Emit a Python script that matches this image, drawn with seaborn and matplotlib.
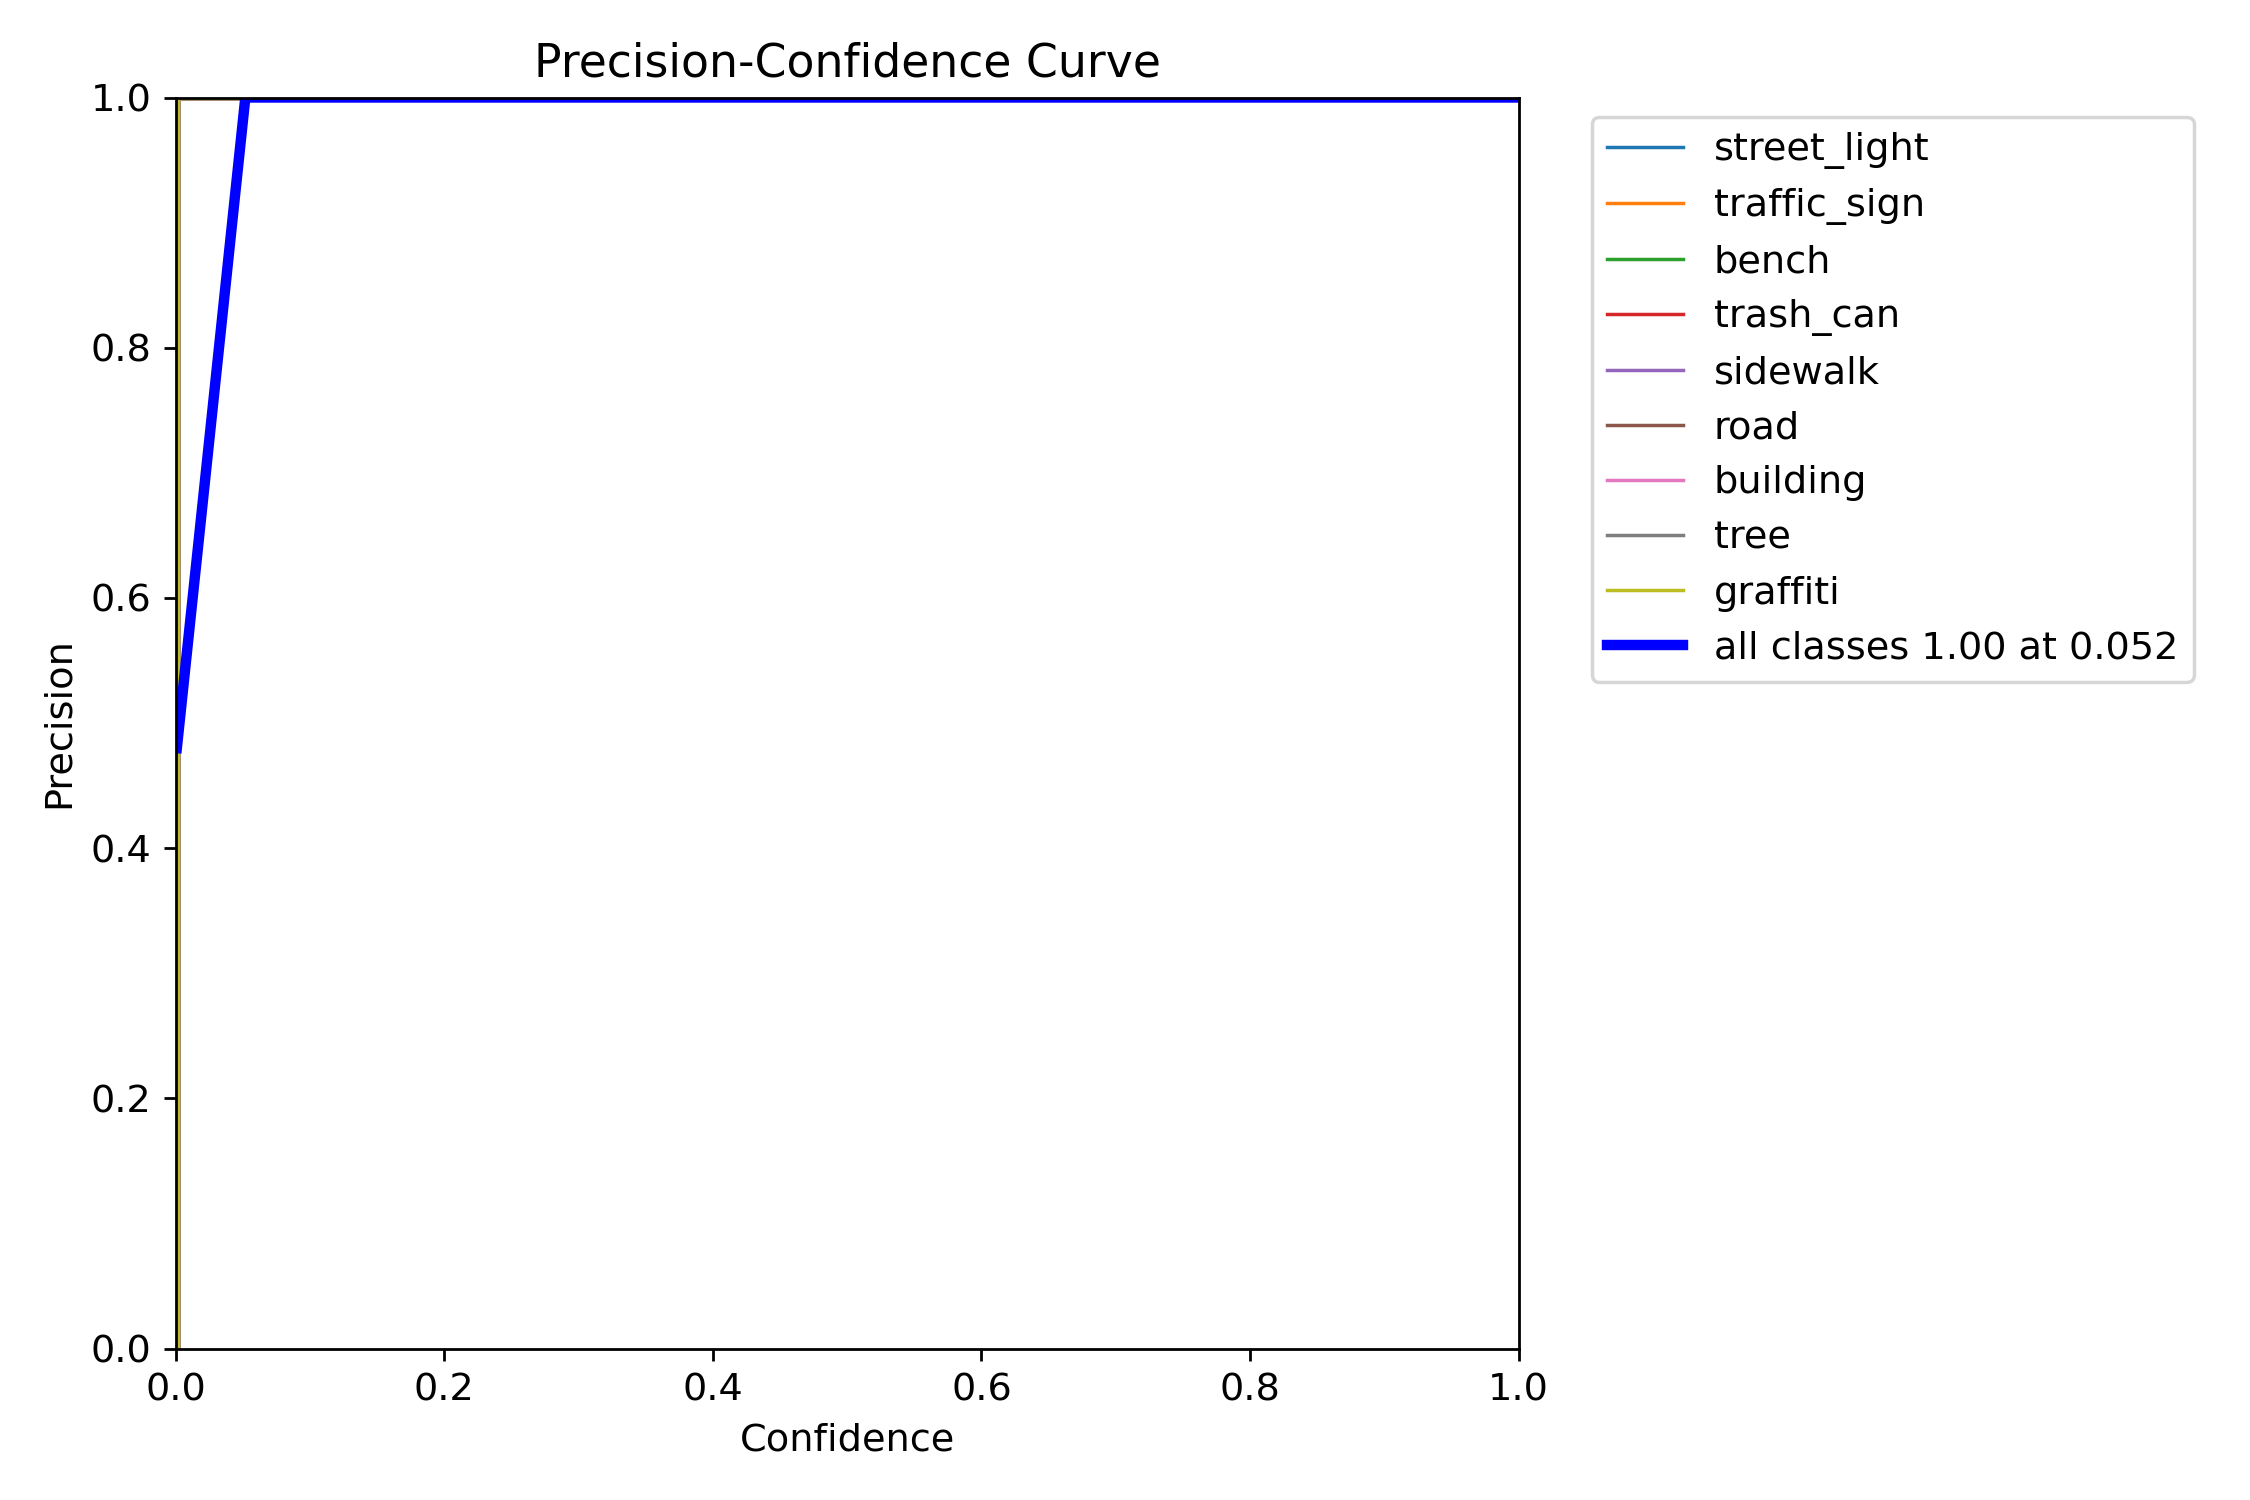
import numpy as np
import pandas as pd
import matplotlib
matplotlib.use("Agg")
import matplotlib.pyplot as plt
import seaborn as sns

# ---- DATA ----
class_names = ["street_light", "traffic_sign", "bench", "trash_can", "sidewalk",
               "road", "building", "tree", "graffiti"]

# per-class precision curves: near zero at the very lowest confidence, then 1.0
conf_street_light = [0.002, 0.002, 1.0]
prec_street_light = [0.0, 1.0, 1.0]
conf_traffic_sign = [0.002, 0.002, 1.0]
prec_traffic_sign = [0.0, 1.0, 1.0]
conf_bench = [0.002, 0.002, 1.0]
prec_bench = [0.0, 1.0, 1.0]
conf_trash_can = [0.002, 0.002, 1.0]
prec_trash_can = [0.0, 1.0, 1.0]
conf_sidewalk = [0.002, 0.002, 1.0]
prec_sidewalk = [0.0, 1.0, 1.0]
conf_road = [0.002, 0.002, 1.0]
prec_road = [0.0, 1.0, 1.0]
conf_building = [0.002, 0.002, 1.0]
prec_building = [0.0, 1.0, 1.0]
conf_tree = [0.002, 0.002, 1.0]
prec_tree = [0.0, 1.0, 1.0]
conf_graffiti = [0.002, 0.002, 1.0]
prec_graffiti = [0.0, 1.0, 1.0]

# mean over all classes (smoothed)
conf_all = [0.001, 0.052, 1.0]
prec_all = [0.48, 1.0, 1.0]
best_prec = 1.00
best_conf = 0.052

class_curves = [
    (conf_street_light, prec_street_light),
    (conf_traffic_sign, prec_traffic_sign),
    (conf_bench, prec_bench),
    (conf_trash_can, prec_trash_can),
    (conf_sidewalk, prec_sidewalk),
    (conf_road, prec_road),
    (conf_building, prec_building),
    (conf_tree, prec_tree),
    (conf_graffiti, prec_graffiti),
]


def main():
    plt.rcParams["font.size"] = 11
    palette = sns.color_palette("tab10", len(class_names))

    fig, ax = plt.subplots(1, 1, figsize=(9, 6), dpi=250)

    for i, (name, (cx, cy)) in enumerate(zip(class_names, class_curves)):
        df = pd.DataFrame({"Confidence": cx, "Precision": cy})
        sns.lineplot(data=df, x="Confidence", y="Precision", estimator=None,
                     sort=False, color=palette[i], linewidth=1, label=name, ax=ax)

    df_all = pd.DataFrame({"Confidence": conf_all, "Precision": prec_all})
    sns.lineplot(data=df_all, x="Confidence", y="Precision", estimator=None,
                 sort=False, color="blue", linewidth=3,
                 label=f"all classes {best_prec:.2f} at {best_conf:.3f}", ax=ax)

    ax.set_xlabel("Confidence")
    ax.set_ylabel("Precision")
    ax.set_xlim(0, 1)
    ax.set_ylim(0, 1)
    ax.legend(bbox_to_anchor=(1.04, 1), loc="upper left")
    ax.set_title("Precision-Confidence Curve")

    fig.subplots_adjust(left=0.078, right=0.675, bottom=0.101, top=0.935)
    fig.savefig("out.png", dpi=250)


if __name__ == "__main__":
    main()
